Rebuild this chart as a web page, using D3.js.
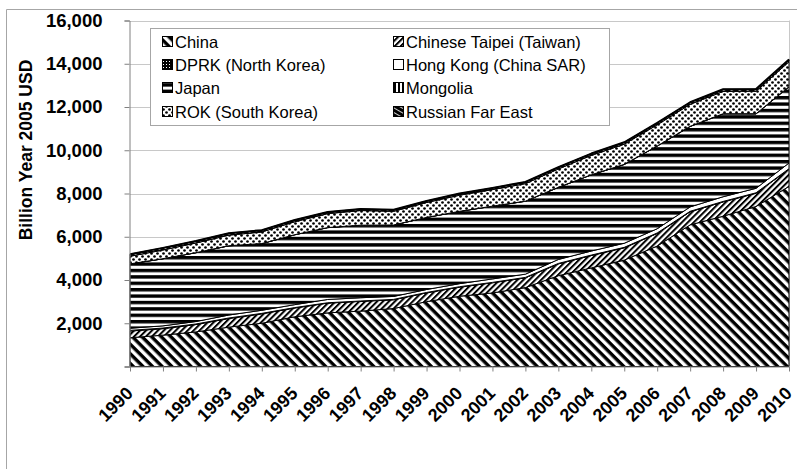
<!DOCTYPE html>
<html>
<head>
<meta charset="utf-8">
<script src="https://cdn.jsdelivr.net/npm/d3@7"></script>
<style>
  html, body { margin: 0; padding: 0; background: #fff; }
  svg { display: block; font-family: "Liberation Sans", Arial, sans-serif; }
</style>
</head>
<body>
<svg id="chart" width="797" height="469"></svg>
<script>
// Regional GDP, billion year-2005 USD, stacked by economy
const years = [1990, 1991, 1992, 1993, 1994, 1995, 1996, 1997, 1998, 1999, 2000,
               2001, 2002, 2003, 2004, 2005, 2006, 2007, 2008, 2009, 2010];
const yTicks = [0, 2000, 4000, 6000, 8000, 10000, 12000, 14000, 16000];

const seriesNames = ["China", "Chinese Taipei (Taiwan)", "DPRK (North Korea)",
  "Hong Kong (China SAR)", "Japan", "Mongolia", "ROK (South Korea)", "Russian Far East"];

const china    = [1330, 1450, 1600, 1820, 2000, 2300, 2480, 2560, 2680, 3000, 3250,
                  3400, 3650, 4200, 4560, 4920, 5570, 6550, 6950, 7400, 8330];
const taiwan   = [310, 300, 340, 400, 435, 405, 450, 452, 405, 405, 420,
                  470, 450, 545, 570, 568, 583, 605, 660, 610, 795];
const dprk     = [30, 28, 26, 24, 22, 20, 18, 18, 18, 19, 20,
                  20, 21, 21, 22, 22, 22, 22, 23, 23, 23];
const hongKong = [100, 102, 114, 136, 143, 135, 152, 150, 137, 136, 140,
                  160, 149, 184, 188, 190, 195, 203, 217, 207, 262];
const japan    = [2970, 3100, 3180, 3200, 3080, 3230, 3320, 3350, 3300, 3330, 3340,
                  3360, 3370, 3330, 3520, 3640, 3820, 3720, 3830, 3440, 3520];
const mongolia = [6, 6, 5, 5, 5, 5, 5, 5, 5, 5, 6,
                  6, 6, 7, 7, 8, 8, 9, 10, 10, 11];
const korea    = [350, 400, 445, 490, 535, 600, 645, 678, 630, 688, 745,
                  762, 810, 848, 895, 932, 978, 1014, 1030, 1040, 1155];
const rfe      = [100, 100, 95, 90, 85, 80, 75, 72, 70, 72, 75,
                  78, 80, 82, 85, 88, 92, 96, 100, 100, 105];

const seriesValues = [china, taiwan, dprk, hongKong, japan, mongolia, korea, rfe];

const rows = years.map((yr, i) => {
  const r = { year: yr };
  seriesNames.forEach((name, k) => { r[name] = seriesValues[k][i]; });
  return r;
});

const svg = d3.select("#chart");
const W = 797, H = 469;
const plot = { left: 130, right: 789, top: 20.5, bottom: 366.5 };

const x = d3.scalePoint().domain(years).range([plot.left, plot.right]);
const y = d3.scaleLinear().domain([0, 16000]).range([plot.bottom, plot.top]);

// ---- fill patterns ----
const defs = svg.append("defs");
function stripes(id, period, thick, angle, bg, fg) {
  const p = defs.append("pattern").attr("id", id)
    .attr("patternUnits", "userSpaceOnUse")
    .attr("width", 20).attr("height", period)
    .attr("patternTransform", `rotate(${angle})`);
  p.append("rect").attr("width", 20).attr("height", period).attr("fill", bg);
  p.append("rect").attr("y", 0).attr("width", 20).attr("height", thick).attr("fill", fg);
}
stripes("pat-china", 6.8, 3.4, 45, "#fff", "#000");
stripes("pat-taiwan", 4.2, 2.0, -45, "#fff", "#000");
stripes("pat-japan", 6.4, 3.4, 0, "#fff", "#000");
stripes("pat-mongolia", 4, 2, 90, "#fff", "#000");

(function () {
  const p = defs.append("pattern").attr("id", "pat-dprk")
    .attr("patternUnits", "userSpaceOnUse").attr("width", 3).attr("height", 3);
  p.append("rect").attr("width", 3).attr("height", 3).attr("fill", "#000");
  p.append("rect").attr("x", 1).attr("y", 1).attr("width", 1).attr("height", 1).attr("fill", "#fff");
})();
(function () {
  const p = defs.append("pattern").attr("id", "pat-hk")
    .attr("patternUnits", "userSpaceOnUse").attr("width", 4).attr("height", 4);
  p.append("rect").attr("width", 4).attr("height", 4).attr("fill", "#fff");
})();
(function () {
  const p = defs.append("pattern").attr("id", "pat-korea")
    .attr("patternUnits", "userSpaceOnUse").attr("width", 6).attr("height", 6);
  p.append("rect").attr("width", 6).attr("height", 6).attr("fill", "#fff");
  [[1.5, 1.5], [4.5, 4.5]].forEach(([cx, cy]) =>
    p.append("circle").attr("cx", cx).attr("cy", cy).attr("r", 1.35).attr("fill", "#000"));
})();
(function () {
  const p = defs.append("pattern").attr("id", "pat-rfe")
    .attr("patternUnits", "userSpaceOnUse").attr("width", 4).attr("height", 4)
    .attr("patternTransform", "rotate(30)");
  p.append("rect").attr("width", 4).attr("height", 4).attr("fill", "#000");
  p.append("rect").attr("width", 4).attr("height", 0.8).attr("fill", "#fff");
})();

const fills = ["url(#pat-china)", "url(#pat-taiwan)", "url(#pat-dprk)", "url(#pat-hk)",
               "url(#pat-japan)", "url(#pat-mongolia)", "url(#pat-korea)", "url(#pat-rfe)"];

// ---- outer frame ----
svg.append("path").attr("d", `M6.5,${H} V9.5 H${W}`)
  .attr("fill", "none").attr("stroke", "#a6a6a6").attr("stroke-width", 1);

// ---- gridlines ----
svg.append("g").selectAll("line").data(yTicks.filter(d => d > 0)).join("line")
  .attr("x1", plot.left).attr("x2", plot.right)
  .attr("y1", d => Math.round(y(d)) + 0.5).attr("y2", d => Math.round(y(d)) + 0.5)
  .attr("stroke", "#c8c8c8").attr("stroke-width", 1);
svg.append("line").attr("x1", plot.right + 0.5).attr("x2", plot.right + 0.5)
  .attr("y1", plot.top).attr("y2", plot.bottom)
  .attr("stroke", "#c8c8c8");

// ---- stacked areas ----
const stack = d3.stack().keys(seriesNames);
const layers = stack(rows);
const area = d3.area()
  .x(d => x(d.data.year))
  .y0(d => y(d[0]))
  .y1(d => y(d[1]));

svg.append("g").selectAll("path").data(layers).join("path")
  .attr("d", area)
  .attr("fill", (d, i) => fills[i])
  .attr("stroke", "#000").attr("stroke-width", 1)
  .attr("stroke-linejoin", "round");

// heavier outline along the top of the stack
const topLine = d3.line().x(d => x(d.data.year)).y(d => y(d[1]));
svg.append("path").attr("d", topLine(layers[layers.length - 1]))
  .attr("fill", "none").attr("stroke", "#000").attr("stroke-width", 2)
  .attr("stroke-linejoin", "round");

// ---- axes ----
const yAxis = d3.axisLeft(y).tickValues(yTicks).tickSize(5).tickPadding(22)
  .tickFormat(d => d === 0 ? "" : d3.format(",")(d));
const gy = svg.append("g").attr("transform", `translate(${plot.left - 0.5},0)`).call(yAxis);
gy.select(".domain").attr("stroke", "#808080");
gy.selectAll(".tick line").attr("stroke", "#808080");
gy.selectAll(".tick text").attr("font-size", 18.5).attr("font-weight", "bold")
  .attr("fill", "#000").attr("font-family", "Liberation Sans, Arial, sans-serif");

const xAxis = d3.axisBottom(x).tickSize(5).tickFormat("");
const gx = svg.append("g").attr("transform", `translate(0,${plot.bottom})`).call(xAxis);
gx.select(".domain").attr("stroke", "#808080").attr("d", `M${plot.left - 5},0.5H${plot.right + 0.5}`);
gx.selectAll(".tick line").attr("stroke", "#808080");

svg.append("g").selectAll("text").data(years).join("text")
  .attr("transform", d => `translate(${x(d) + 4},${plot.bottom + 28}) rotate(-45)`)
  .attr("text-anchor", "end")
  .attr("font-size", 18).attr("font-weight", "bold").attr("fill", "#000")
  .text(d => d);

// ---- y title ----
svg.append("text")
  .attr("transform", `translate(32,${150}) rotate(-90)`)
  .attr("text-anchor", "middle")
  .attr("font-size", 17.5).attr("font-weight", "bold").attr("fill", "#000")
  .text("Billion Year 2005 USD");

// ---- legend ----
const lg = svg.append("g");
lg.append("rect").attr("x", 150.5).attr("y", 28.5).attr("width", 459).attr("height", 97)
  .attr("fill", "#fff").attr("stroke", "#a6a6a6");
const legendRows = [42, 65, 88, 112];
seriesNames.forEach((name, i) => {
  const col = i % 2, row = Math.floor(i / 2);
  const ix = col === 0 ? 162 : 393;
  const cy = legendRows[row];
  lg.append("rect").attr("x", ix + 0.5).attr("y", cy - 5.5).attr("width", 10).attr("height", 10)
    .attr("fill", fills[i]).attr("stroke", "#000");
  lg.append("text").attr("x", ix + 13).attr("y", cy + 6)
    .attr("font-size", 16.5).attr("fill", "#000").text(name);
});
</script>
</body>
</html>
